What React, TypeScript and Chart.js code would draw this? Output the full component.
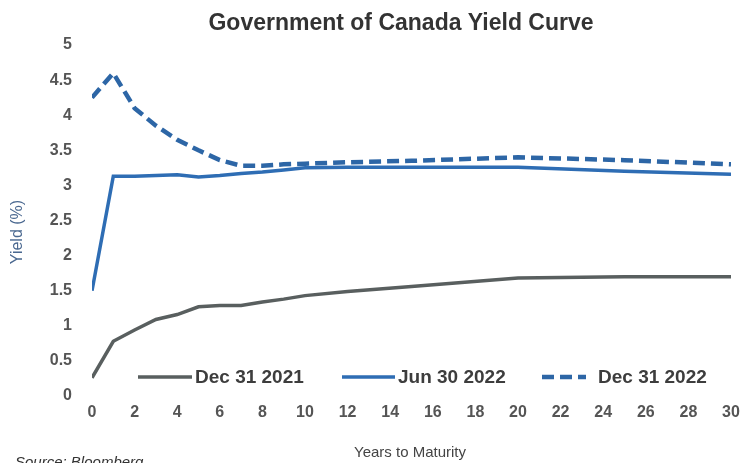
import { useEffect, useRef } from "react";
import { Chart, registerables } from "chart.js";

Chart.register(...registerables);

// ---- data ----
const maturities = [0, 1, 2, 3, 4, 5, 6, 7, 8, 9, 10, 12, 15, 20, 25, 30];
const dec2021 = [0.26, 0.78, 0.94, 1.09, 1.16, 1.27, 1.29, 1.29, 1.34, 1.38, 1.43, 1.49, 1.56, 1.68, 1.7, 1.7];
const jun2022 = [1.5, 3.13, 3.13, 3.14, 3.15, 3.12, 3.14, 3.17, 3.19, 3.22, 3.25, 3.26, 3.26, 3.26, 3.2, 3.16];
const dec2022 = [4.25, 4.6, 4.1, 3.85, 3.65, 3.5, 3.36, 3.28, 3.28, 3.3, 3.31, 3.33, 3.35, 3.4, 3.36, 3.3];
const seriesLabels = ["Dec 31 2021", "Jun 30 2022", "Dec 31 2022"];

const chartTitle = "Government of Canada Yield Curve";
const yAxisTitle = "Yield (%)";
const xAxisTitle = "Years to Maturity";
const sourceNote = "Source: Bloomberg";

const FONT = '"Liberation Sans", Arial, sans-serif';

const toPoints = (ys: number[]) => maturities.map((x, i) => ({ x, y: ys[i] }));

// legend layout (offsets from chart-area left)
const legendItems = [
  { offset: 46, len: 54, gap: 3 },
  { offset: 250, len: 53, gap: 3 },
  { offset: 450, len: 44, gap: 12 },
];

const textPlugin = {
  id: "textPlugin",
  afterDraw(chart: any) {
    const ctx = chart.ctx as CanvasRenderingContext2D;
    const area = chart.chartArea;
    ctx.save();

    // title
    ctx.fillStyle = "#333333";
    ctx.font = `bold 23px ${FONT}`;
    ctx.textAlign = "center";
    ctx.textBaseline = "alphabetic";
    ctx.fillText(chartTitle, 401, 30);

    // y axis title
    ctx.save();
    ctx.translate(18, 232);
    ctx.rotate(-Math.PI / 2);
    ctx.fillStyle = "#4a6890";
    ctx.font = `16px ${FONT}`;
    ctx.textAlign = "center";
    ctx.textBaseline = "middle";
    ctx.fillText(yAxisTitle, 0, 0);
    ctx.restore();

    // x axis title
    ctx.fillStyle = "#444444";
    ctx.font = `15px ${FONT}`;
    ctx.textAlign = "center";
    ctx.textBaseline = "middle";
    ctx.fillText(xAxisTitle, 410, 453);

    // source
    ctx.fillStyle = "#333333";
    ctx.font = `italic 15px ${FONT}`;
    ctx.textAlign = "left";
    ctx.textBaseline = "alphabetic";
    ctx.fillText(sourceNote, 15, 467);

    // legend inside plot
    const ly = 377;
    chart.data.datasets.forEach((ds: any, i: number) => {
      const it = legendItems[i];
      const x0 = area.left + it.offset;
      ctx.beginPath();
      ctx.strokeStyle = ds.borderColor;
      ctx.lineWidth = ds.borderWidth;
      ctx.setLineDash(ds.borderDash || []);
      ctx.moveTo(x0, ly);
      ctx.lineTo(x0 + it.len, ly);
      ctx.stroke();
      ctx.setLineDash([]);
      ctx.fillStyle = "#3d3d3d";
      ctx.font = `bold 19px ${FONT}`;
      ctx.textAlign = "left";
      ctx.textBaseline = "middle";
      ctx.fillText(ds.label, x0 + it.len + it.gap, ly + 1);
    });

    ctx.restore();
  },
};

export default function App() {
  const ref = useRef<HTMLCanvasElement>(null);

  useEffect(() => {
    document.body.style.margin = "0";
    if (!ref.current) return;
    const chart = new Chart(ref.current, {
      type: "line",
      data: {
        datasets: [
          {
            label: seriesLabels[0],
            data: toPoints(dec2021),
            borderColor: "#595f5f",
            borderWidth: 3.5,
            pointRadius: 0,
            tension: 0,
          },
          {
            label: seriesLabels[1],
            data: toPoints(jun2022),
            borderColor: "#2e6db4",
            borderWidth: 3.5,
            pointRadius: 0,
            tension: 0,
          },
          {
            label: seriesLabels[2],
            data: toPoints(dec2022),
            borderColor: "#2d66a6",
            borderWidth: 4.5,
            borderDash: [12, 6],
            pointRadius: 0,
            tension: 0,
          },
        ],
      },
      options: {
        animation: false,
        responsive: false,
        layout: { padding: { top: 45, right: 20, left: 0, bottom: 0 } },
        plugins: {
          legend: { display: false },
          title: { display: false },
          tooltip: { enabled: false },
        },
        scales: {
          x: {
            type: "linear",
            min: 0,
            max: 30,
            border: { display: false },
            grid: { display: false, drawTicks: false },
            ticks: {
              stepSize: 2,
              padding: 7,
              color: "#555555",
              font: { family: FONT, size: 16, weight: "bold" },
              callback: (v: any) => String(v),
            },
            afterFit: (s: any) => {
              s.height = 67;
            },
          },
          y: {
            min: 0,
            max: 5,
            border: { display: false },
            grid: { display: false, drawTicks: false },
            ticks: {
              stepSize: 0.5,
              padding: 20,
              color: "#555555",
              font: { family: FONT, size: 16, weight: "bold" },
              callback: (v: any) => String(v),
            },
            afterFit: (s: any) => {
              s.width = 92;
            },
          },
        },
      },
      plugins: [textPlugin],
    });
    return () => chart.destroy();
  }, []);

  return (
    <div style={{ width: 751, height: 463 }}>
      <canvas ref={ref} width={751} height={463} style={{ display: "block" }} />
    </div>
  );
}
